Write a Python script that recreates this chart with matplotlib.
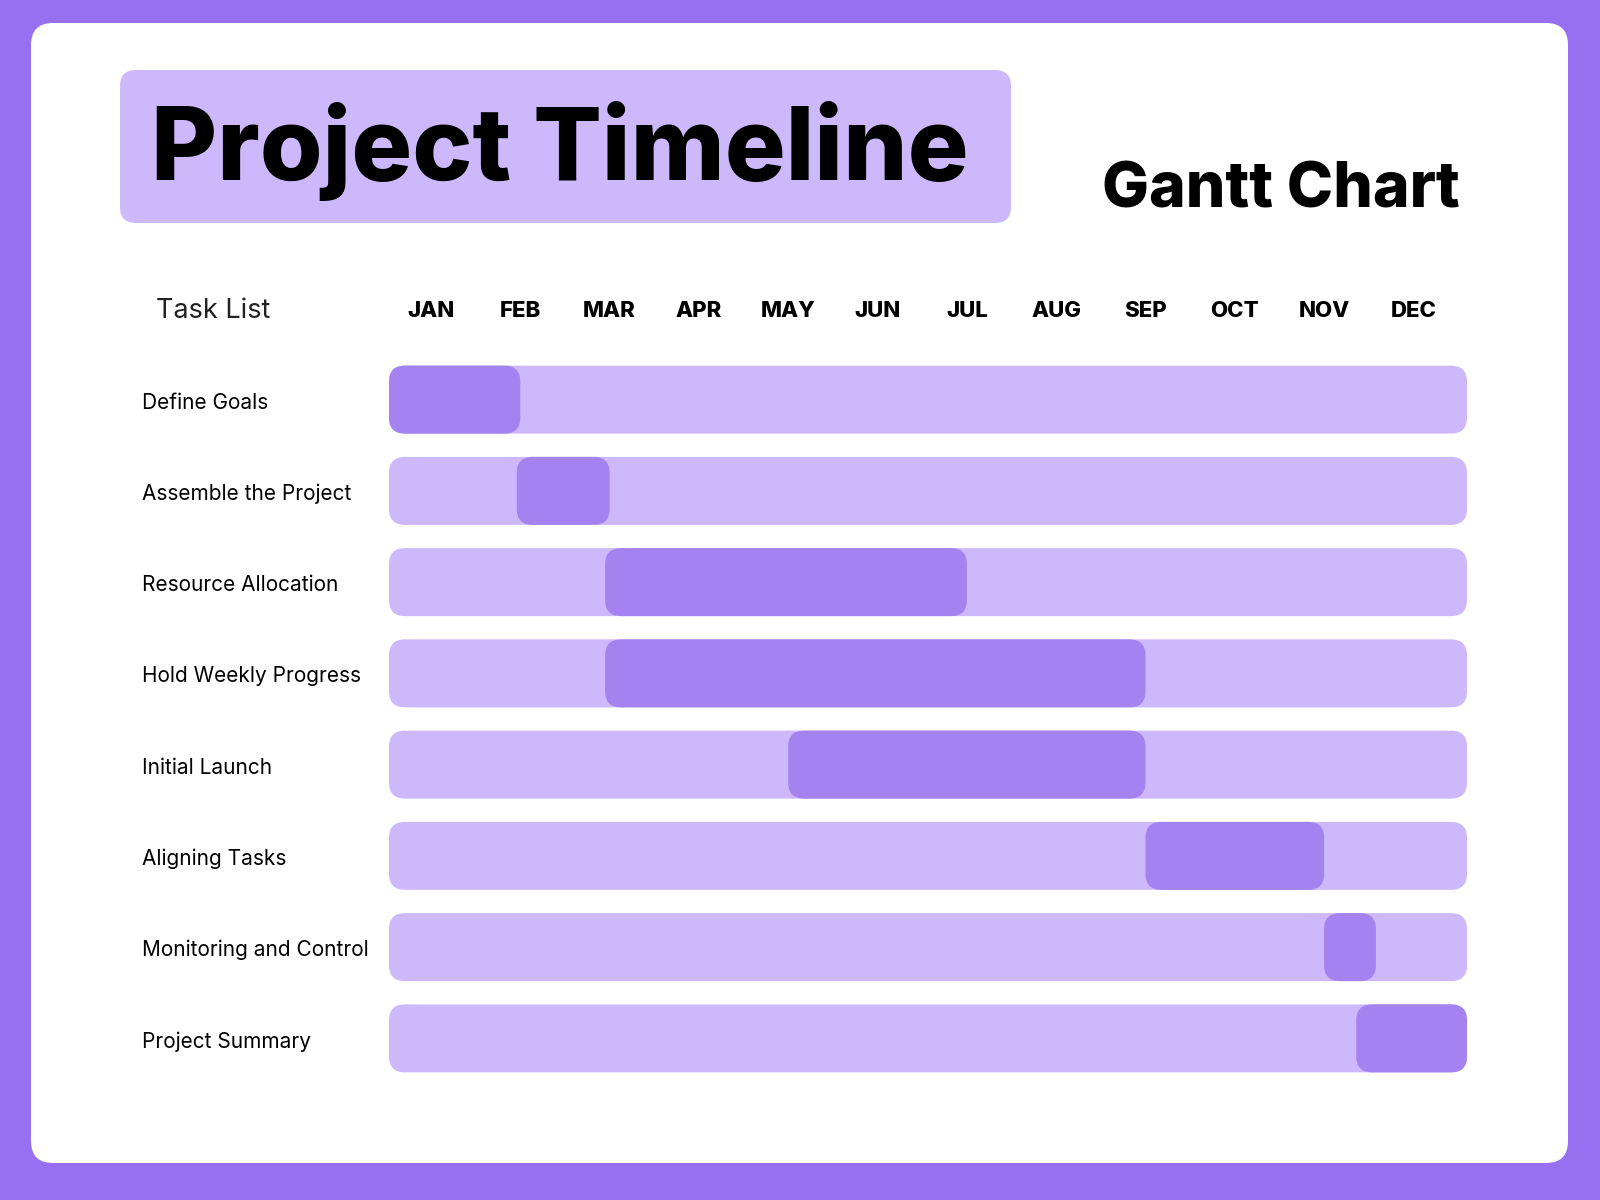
import matplotlib
matplotlib.use("Agg")
import matplotlib.pyplot as plt
from matplotlib.patches import FancyBboxPatch
import matplotlib.transforms as mtransforms

# ---------------- data ----------------
tasks = ["Define Goals", "Assemble the Project", "Resource Allocation",
         "Hold Weekly Progress", "Initial Launch", "Aligning Tasks",
         "Monitoring and Control", "Project Summary"]
months = ["JAN", "FEB", "MAR", "APR", "MAY", "JUN",
          "JUL", "AUG", "SEP", "OCT", "NOV", "DEC"]
# positions in month units (0 = JAN label centre)
task_start = [-0.47, 0.96, 1.95, 1.95, 4.0, 8.0, 10.0, 10.36]
task_end = [1.0, 2.0, 6.0, 8.0, 8.0, 10.0, 10.58, 11.6]
timeline_start = -0.47
timeline_end = 11.6

# ---------------- style ----------------
OUTER = "#9670F0"
LIGHT = "#CEB8FC"
DARK = "#A482EF"
FONT = ["Inter", "DejaVu Sans"]
plt.rcParams["font.family"] = FONT

W, H = 1600, 1200
fig = plt.figure(figsize=(16, 12), dpi=100, facecolor=OUTER)

# decorative background axes in pixel units
bg = fig.add_axes([0, 0, 1, 1])
bg.set_xlim(0, W)
bg.set_ylim(H, 0)
bg.axis("off")
bg.add_patch(FancyBboxPatch((31, 23), 1537, 1140,
                            boxstyle="round,pad=0,rounding_size=22",
                            fc="white", ec="none"))
bg.add_patch(FancyBboxPatch((120, 70), 891, 153,
                            boxstyle="round,pad=0,rounding_size=16",
                            fc=LIGHT, ec="none"))
bg.text(151, 180, "Project Timeline", fontsize=73, fontweight="heavy",
        color="black", va="baseline", ha="left")
bg.text(1460, 208, "Gantt Chart", fontsize=45, fontweight="heavy",
        color="black", va="baseline", ha="right")
bg.text(156, 311, "Task List", fontsize=19.5, fontweight="normal",
        color="#222222", va="center", ha="left")

# Gantt axes
left_px, right_px = 389, 1467
top_px, bot_px = 354, 1084
ax = fig.add_axes([left_px / W, 1 - bot_px / H,
                   (right_px - left_px) / W, (bot_px - top_px) / H])
ax.set_xlim(timeline_start, timeline_end)
n = len(tasks)
ax.set_ylim(n - 0.5, -0.5)
ax.axis("off")
ax.patch.set_alpha(0)

sx = (right_px - left_px) / (timeline_end - timeline_start)
sy = (bot_px - top_px) / n
aspect = sx / sy
r_px = 16
r = r_px / sx
bar_h = 68 / sy

for i, (s, e) in enumerate(zip(task_start, task_end)):
    ax.add_patch(FancyBboxPatch((timeline_start, i - bar_h / 2),
                                timeline_end - timeline_start, bar_h,
                                boxstyle=f"round,pad=0,rounding_size={r}",
                                mutation_aspect=aspect,
                                fc=LIGHT, ec="none"))
    ax.add_patch(FancyBboxPatch((s, i - bar_h / 2), e - s, bar_h,
                                boxstyle=f"round,pad=0,rounding_size={r}",
                                mutation_aspect=aspect,
                                fc=DARK, ec="none"))

# month labels
for j, m in enumerate(months):
    ax.text(j, -0.5 - (top_px - 311) / sy, m, fontsize=16, fontweight="heavy",
            ha="center", va="center", color="black", clip_on=False)

# task labels
trans = mtransforms.blended_transform_factory(bg.transData, ax.transData)
for i, t in enumerate(tasks):
    ax.text(142, i + 3 / sy, t, transform=trans, fontsize=15, ha="left",
            va="center", color="black", clip_on=False)

fig.savefig("out.png", dpi=100, facecolor=OUTER)
